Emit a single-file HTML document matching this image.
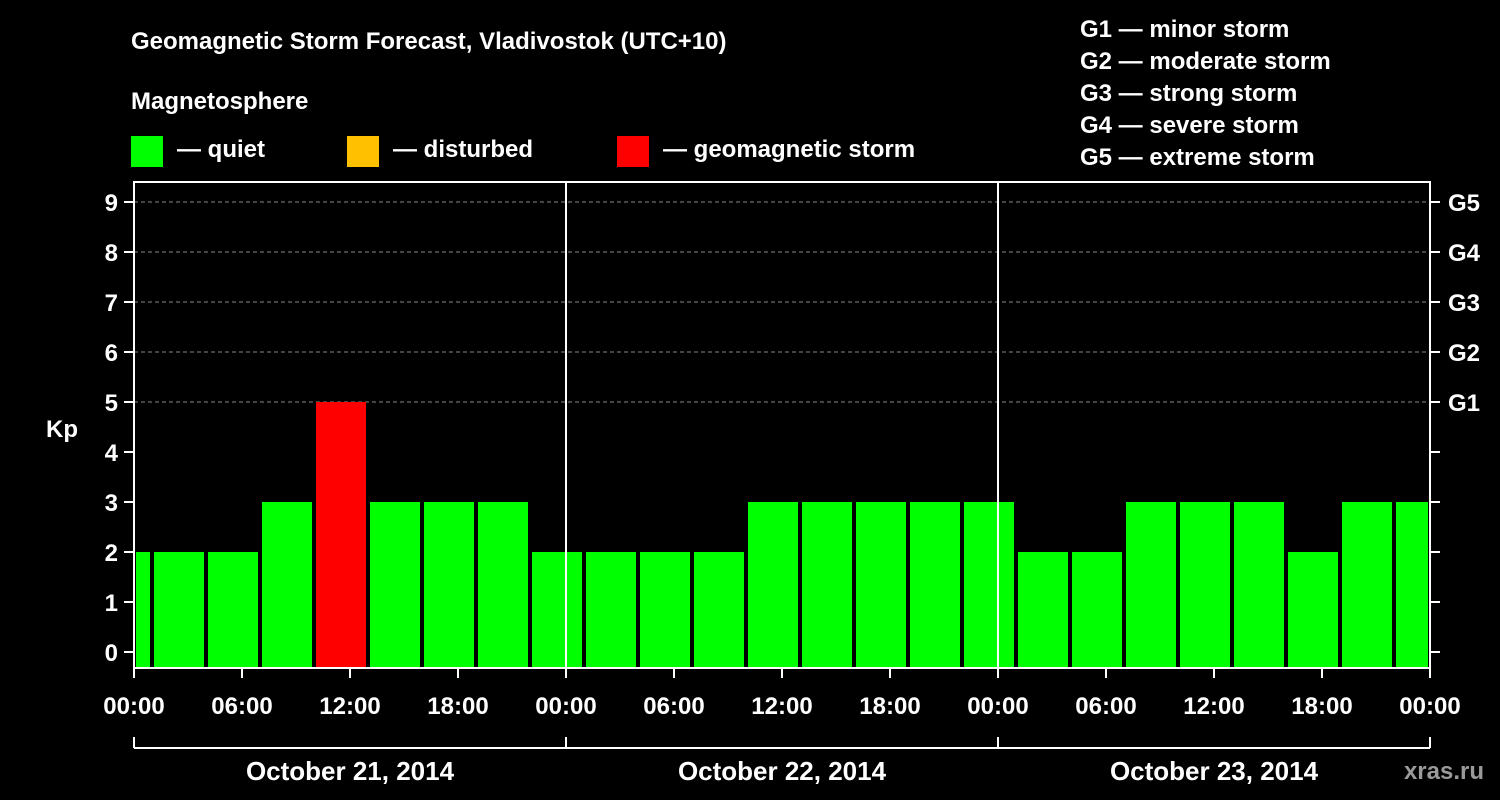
<!DOCTYPE html>
<html><head><meta charset="utf-8"><style>
html,body{margin:0;padding:0;background:#000;}
svg{display:block;}
text{font-family:"Liberation Sans",Arial,sans-serif;font-weight:bold;fill:#fff;}
</style></head><body>
<svg id="chart" width="1500" height="800" viewBox="0 0 1500 800" xmlns="http://www.w3.org/2000/svg">
<rect width="1500" height="800" fill="#000"/>
<text x="131" y="49" font-size="24">Geomagnetic Storm Forecast, Vladivostok (UTC+10)</text>
<text x="131" y="109" font-size="24">Magnetosphere</text>
<g>
<rect x="131" y="136" width="32" height="31" fill="#00ff00"/>
<text x="177" y="157" font-size="24">— quiet</text>
<rect x="347" y="136" width="32" height="31" fill="#ffc000"/>
<text x="393" y="157" font-size="24">— disturbed</text>
<rect x="617" y="136" width="32" height="31" fill="#ff0000"/>
<text x="663" y="157" font-size="24">— geomagnetic storm</text>
</g>
<g font-size="24">
<text x="1080" y="37">G1 — minor storm</text>
<text x="1080" y="69">G2 — moderate storm</text>
<text x="1080" y="101">G3 — strong storm</text>
<text x="1080" y="133">G4 — severe storm</text>
<text x="1080" y="165">G5 — extreme storm</text>
</g>
<g id="grid"></g>
<g id="bars"></g>
<g id="axes"></g>
<text x="62" y="437" font-size="24" text-anchor="middle">Kp</text>
<text x="1484" y="779" font-size="24" text-anchor="end" fill="#9a9a9a" style="fill:#9a9a9a">xras.ru</text>
</svg>
<script>
// Kp values per 3-hour interval, starting at -2h local on Oct 21
const kpValues = [2,2,2,3,5,3,3,3,2,2,2,2,3,3,3,3,3,2,2,3,3,3,2,3,3];
const yTicks = [0,1,2,3,4,5,6,7,8,9];
const gLabels = ["G1","G2","G3","G4","G5"];
const gLevels = [5,6,7,8,9];
const xTickLabels = ["00:00","06:00","12:00","18:00","00:00","06:00","12:00","18:00","00:00","06:00","12:00","18:00","00:00"];
const dayLabels = ["October 21, 2014","October 22, 2014","October 23, 2014"];
const startHour = -2, stepHours = 3, totalHours = 72;

const NS="http://www.w3.org/2000/svg";
const X0=134, X1=1430, PT=182, PB=668;
const xs=h=>X0+(X1-X0)*h/totalHours;
const ys=k=>652-50*k;
function mk(tag,attrs,parent){const e=document.createElementNS(NS,tag);for(const k in attrs)e.setAttribute(k,attrs[k]);parent.appendChild(e);return e;}
const grid=document.getElementById('grid'),bars=document.getElementById('bars'),axes=document.getElementById('axes');

gLevels.forEach(k=>{
  const l=mk('line',{x1:X0,x2:X1,y1:ys(k),y2:ys(k),stroke:'#888','stroke-dasharray':'4,3','stroke-width':1},grid);
  
  
});

kpValues.forEach((v,i)=>{
  const h0=startHour+i*stepHours;
  let a=xs(h0)+2,b=xs(h0+stepHours)-2;
  a=Math.max(a,X0+2);b=Math.min(b,X1-2);
  const col=v>=5?'#ff0000':(v>=4?'#ffc000':'#00ff00');
  const r=mk('rect',{x:a,y:ys(v),width:b-a,height:PB-ys(v),fill:col},bars);
  
  
});

// day separators
[24,48].forEach(h=>{
  const l=mk('line',{x1:xs(h),x2:xs(h),y1:PT,y2:PB,stroke:'#fff','stroke-width':2},axes);
  
  
});
const frame=mk('rect',{x:X0,y:PT,width:X1-X0,height:PB-PT,fill:'none',stroke:'#fff','stroke-width':2},axes);



yTicks.forEach(k=>{
  mk('line',{x1:X0-10,x2:X0,y1:ys(k),y2:ys(k),stroke:'#fff','stroke-width':2},axes);
  mk('line',{x1:X1,x2:X1+10,y1:ys(k),y2:ys(k),stroke:'#fff','stroke-width':2},axes);
  const t=mk('text',{x:X0-16,y:ys(k)+9,'font-size':24,'text-anchor':'end'},axes);
  t.textContent=k;
  
  
});
gLabels.forEach((g,i)=>{
  const t=mk('text',{x:X1+18,y:ys(gLevels[i])+9,'font-size':24},axes);
  t.textContent=g;
  
  
});
xTickLabels.forEach((s,i)=>{
  const x=xs(i*6);
  mk('line',{x1:x,x2:x,y1:PB,y2:PB+10,stroke:'#fff','stroke-width':2},axes);
  const t=mk('text',{x:x,y:714,'font-size':24,'text-anchor':'middle'},axes);
  t.textContent=s;
  
  
});
mk('line',{x1:X0,x2:X1,y1:748,y2:748,stroke:'#fff','stroke-width':2},axes);
[0,24,48,72].forEach(h=>mk('line',{x1:xs(h),x2:xs(h),y1:737,y2:748,stroke:'#fff','stroke-width':2},axes));
dayLabels.forEach((d,i)=>{
  const t=mk('text',{x:xs(i*24+12),y:780,'font-size':26,'text-anchor':'middle'},axes);
  t.textContent=d;
  
  
});
</script>
</body></html>
